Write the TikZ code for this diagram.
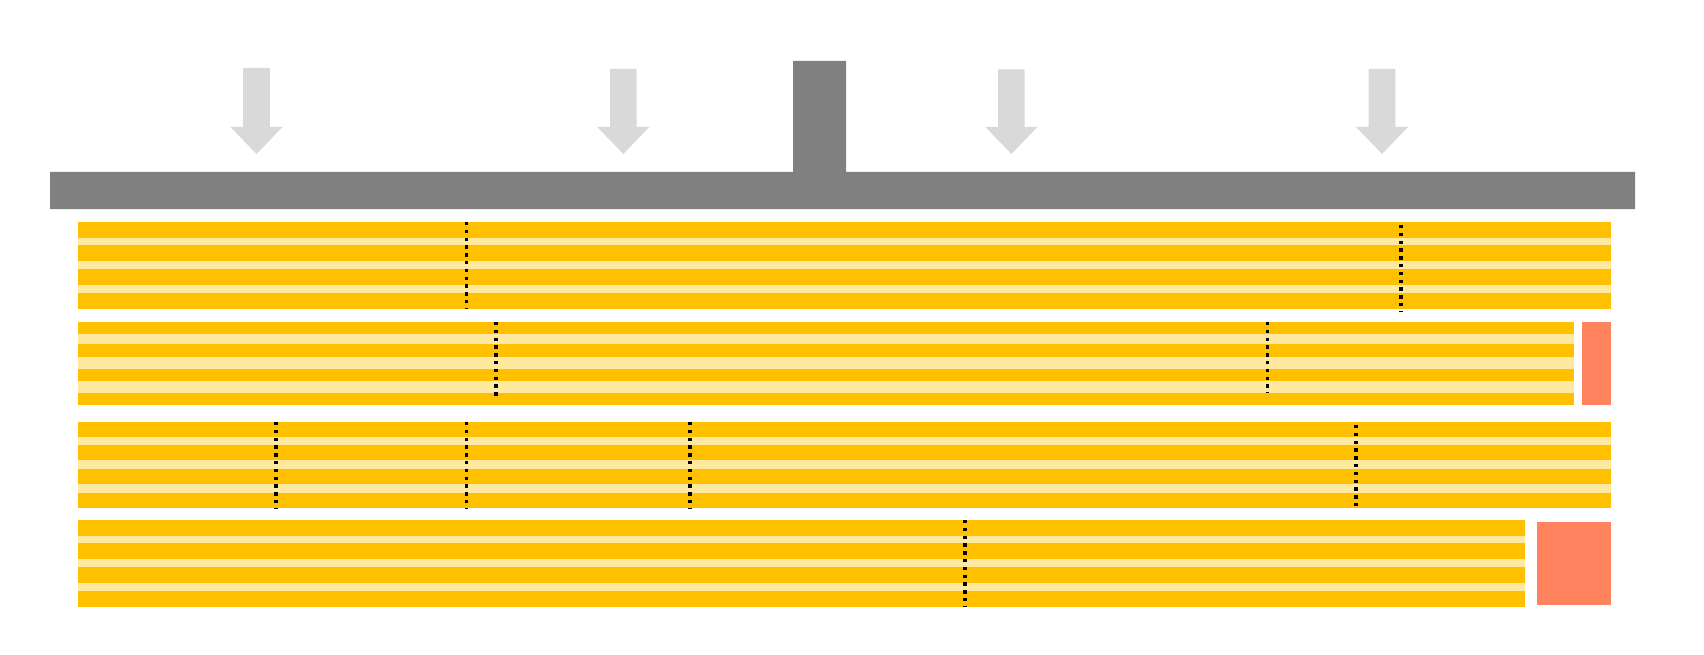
\documentclass[tikz,border=0pt]{standalone}
\definecolor{bargray}{HTML}{808080}
\definecolor{arrgray}{HTML}{D9D9D9}
\definecolor{stripedark}{HTML}{FFC000}
\definecolor{stripelight}{HTML}{FFE9A0}
\definecolor{blockred}{HTML}{FF835F}
\begin{document}
\begin{tikzpicture}[x=1pt,y=-1pt,
  lightband/.style={fill=stripelight},
  darkband/.style={fill=stripedark},
  redblock/.style={fill=blockred},
  barshape/.style={fill=bargray},
  arrshape/.style={fill=arrgray},
  cutline/.style={draw=black,line width=3.3pt,dash pattern=on 3.3pt off 4.5pt}]
\useasboundingbox (0,0) rectangle (1704,655);
% top bar with stem
\fill[barshape] (50,172) -- (793,172) -- (793,61) -- (846,61) -- (846,172)
  -- (1635,172) -- (1635,209) -- (50,209) -- cycle;
% arrows (centre x, shaft half width 13.3, head half width 26)
\foreach \cx/\ty in {256.5/68,623.3/69,1011.4/69.3,1382/69}
  \fill[arrshape] (\cx-13.3,\ty) -- (\cx+13.3,\ty) -- (\cx+13.3,127) -- (\cx+26,127)
    -- (\cx,154) -- (\cx-26,127) -- (\cx-13.3,127) -- cycle;
% group 1
\fill[lightband] (78,222) rectangle (1611,308.7);
\foreach \a/\b in {222/238,245/261,269/285,293/308.7}
  \fill[darkband] (78,\a) rectangle (1611,\b);
\draw[cutline] (466.8,222) -- (466.8,309);
\draw[cutline] (1401,225) -- (1401,312);
% group 2
\fill[lightband] (78,322) rectangle (1574,404.7);
\foreach \a/\b in {322/334,344/357,369/381,393/404.7}
  \fill[darkband] (78,\a) rectangle (1574,\b);
\fill[redblock] (1582,322) rectangle (1611,405);
\draw[cutline] (495.9,322) -- (495.9,397);
\draw[cutline] (1267.7,322) -- (1267.7,393);
% group 3
\fill[lightband] (78,422) rectangle (1611,507.7);
\foreach \a/\b in {422/437,445/460,469/484,493/507.7}
  \fill[darkband] (78,\a) rectangle (1611,\b);
\foreach \x in {275.9,466.8,689.9}
  \draw[cutline] (\x,422) -- (\x,509);
\draw[cutline] (1356,425) -- (1356,510);
% group 4
\fill[lightband] (78,520) rectangle (1525,606.7);
\foreach \a/\b in {520/536,543/559,567/583,591/606.7}
  \fill[darkband] (78,\a) rectangle (1525,\b);
\fill[redblock] (1537,522) rectangle (1611,605);
\draw[cutline] (965.1,520) -- (965.1,607);
\end{tikzpicture}
\end{document}
